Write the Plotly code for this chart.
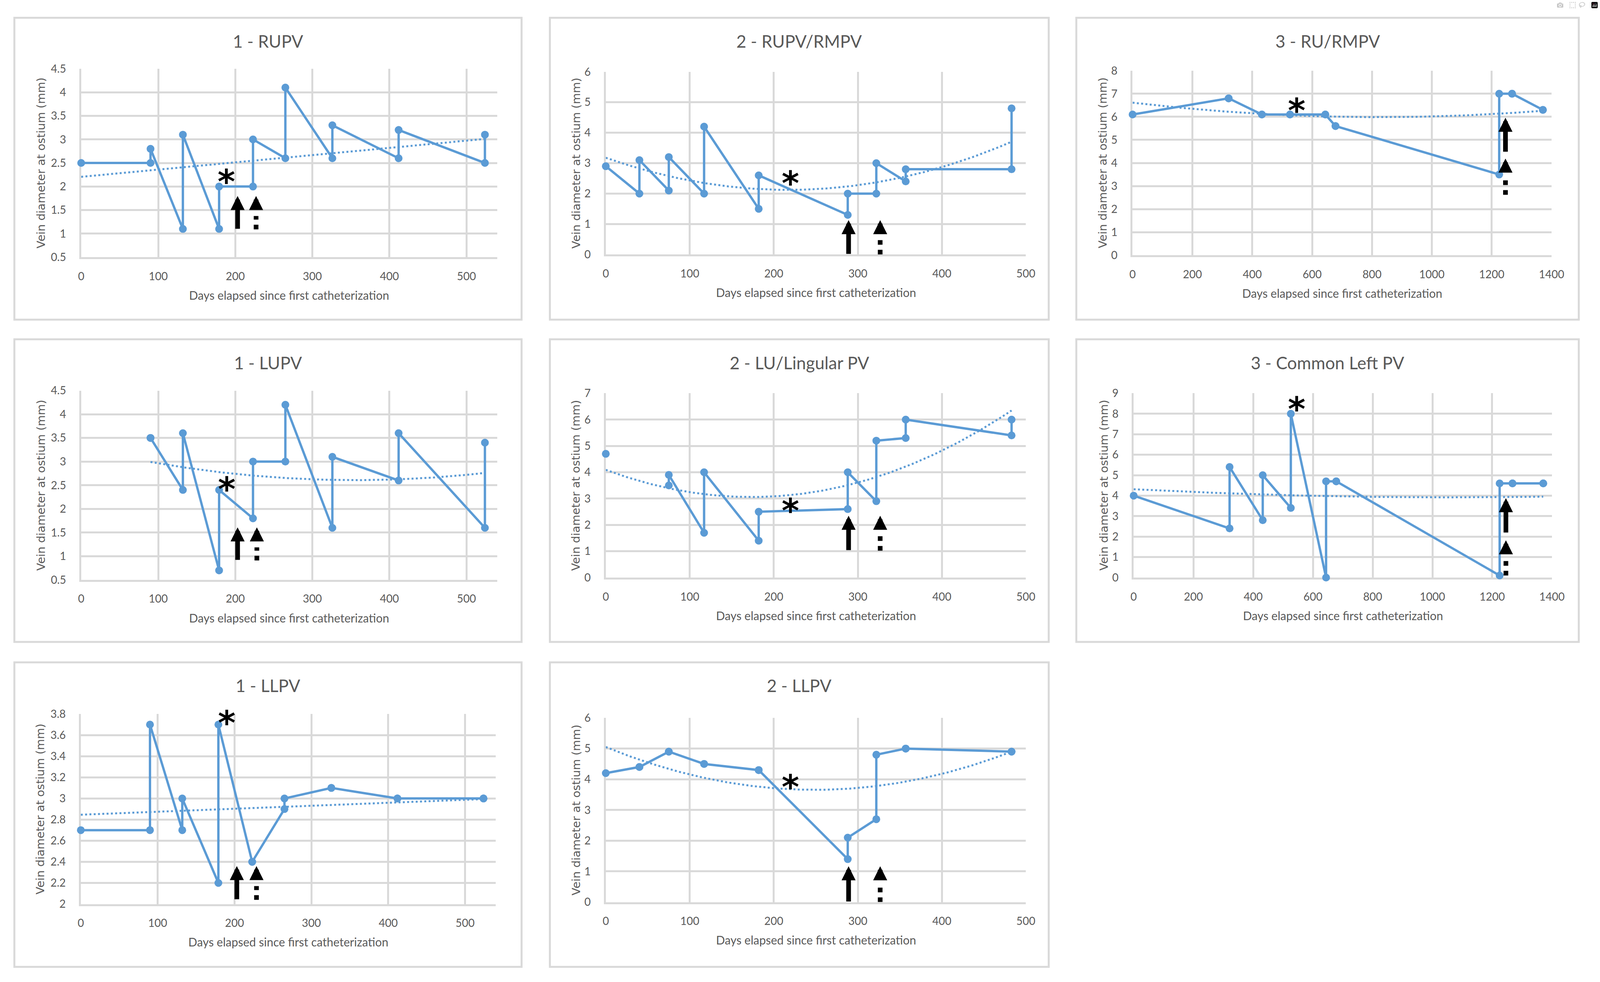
import numpy as np
import plotly.graph_objects as go

W, H = 4364, 2513
BLUE = "#5B9BD5"
GRID = "#D9D9D9"
TEXT = "#595959"

# ---- visit days (pre / post measurement pairs) ----
p1_days = [0, 90, 90, 132, 132, 179, 179, 223, 223, 265, 265, 326, 326, 412, 412, 524, 524]
p2_days = [0, 40, 40, 75, 75, 117, 117, 182, 182, 288, 288, 322, 322, 357, 357, 483, 483]
p3_days = [0, 321, 321, 432, 432, 526, 526, 644, 644, 678, 678, 1225, 1225, 1268, 1268, 1371, 1371]

# ---- vein diameters at ostium (mm) ----
rupv_1 = [2.5, 2.5, 2.8, 1.1, 3.1, 1.1, 2.0, 2.0, 3.0, 2.6, 4.1, 2.6, 3.3, 2.6, 3.2, 2.5, 3.1]
lupv_1 = [None, 3.5, 3.5, 2.4, 3.6, 0.7, 2.4, 1.8, 3.0, 3.0, 4.2, 1.6, 3.1, 2.6, 3.6, 1.6, 3.4]
llpv_1 = [2.7, 2.7, 3.7, 2.7, 3.0, 2.2, 3.7, 2.4, 2.4, 2.9, 3.0, 3.1, 3.1, 3.0, 3.0, 3.0, 3.0]
rupv_rmpv_2 = [2.9, 2.0, 3.1, 2.1, 3.2, 2.0, 4.2, 1.5, 2.6, 1.3, 2.0, 2.0, 3.0, 2.4, 2.8, 2.8, 4.8]
lu_lingular_2 = [4.7, None, None, 3.5, 3.9, 1.7, 4.0, 1.4, 2.5, 2.6, 4.0, 2.9, 5.2, 5.3, 6.0, 5.4, 6.0]
llpv_2 = [4.2, 4.4, 4.4, 4.9, 4.9, 4.5, 4.5, 4.3, 4.3, 1.4, 2.1, 2.7, 4.8, 5.0, 5.0, 4.9, 4.9]
ru_rmpv_3 = [6.1, 6.8, 6.8, 6.1, 6.1, 6.1, 6.1, 6.1, 6.1, 5.6, 5.6, 3.5, 7.0, 7.0, 7.0, 6.3, 6.3]
common_left_3 = [4.0, 2.4, 5.4, 2.8, 5.0, 3.4, 8.0, 0.0, 4.7, 4.7, 4.7, 0.1, 4.6, 4.6, 4.6, 4.6, 4.6]

titles = ["1 - RUPV", "2 - RUPV/RMPV", "3 - RU/RMPV",
          "1 - LUPV", "2 - LU/Lingular PV", "3 - Common Left PV",
          "1 - LLPV", "2 - LLPV"]

# annotation markers: asterisk (x, y); solid arrow (x, base, tip); dashed arrow (x, base, tip)
stars = [(188.5, 2.27), (220, 2.6), (548, 6.6), (189, 2.58), (220, 2.83), (546, 8.6), (190, 3.79), (220, 4.0)]
solid_arrows = [(203, 1.09, 1.80), (289, 0.0, 1.13), (1246, 4.46, 5.96), (203, 0.91, 1.61),
                (289, 1.02, 2.35), (1246, 2.17, 3.88), (203, 2.04, 2.36), (289, 0.0, 1.17)]
dashed_arrows = [(227, 1.09, 1.80), (326.6, 0.0, 1.13), (1246, 2.62, 4.19), (228, 0.91, 1.61),
                 (326.6, 1.02, 2.35), (1246, 0.1, 1.82), (228.6, 2.04, 2.36), (326.6, 0.0, 1.17)]

panels = [
    dict(days=p1_days, mm=rupv_1, fit=1, xr=[0, 540], xd=100, yr=[0.5, 4.5], yd=0.5, plot=(215, 1361, 160, 649), box=(31, 1428, 28, 811), yoff=111),
    dict(days=p2_days, mm=rupv_rmpv_2, fit=2, xr=[0, 500], xd=100, yr=[0, 6], yd=1, plot=(1660, 2817, 168, 642), box=(1506, 2880, 28, 811), yoff=82),
    dict(days=p3_days, mm=ru_rmpv_3, fit=2, xr=[0, 1400], xd=200, yr=[0, 8], yd=1, plot=(3111, 4265, 165, 644), box=(2956, 4340, 28, 811), yoff=82),
    dict(days=p1_days, mm=lupv_1, fit=2, xr=[0, 540], xd=100, yr=[0.5, 4.5], yd=0.5, plot=(215, 1361, 995, 1486), box=(31, 1428, 862, 1647), yoff=111),
    dict(days=p2_days, mm=lu_lingular_2, fit=2, xr=[0, 500], xd=100, yr=[0, 7], yd=1, plot=(1660, 2817, 1002, 1480), box=(1506, 2880, 862, 1647), yoff=82),
    dict(days=p3_days, mm=common_left_3, fit=2, xr=[0, 1400], xd=200, yr=[0, 9], yd=1, plot=(3114, 4266, 1002, 1480), box=(2956, 4340, 862, 1647), yoff=82),
    dict(days=p1_days, mm=llpv_1, fit=1, xr=[0, 540], xd=100, yr=[2, 3.8], yd=0.2, plot=(214, 1357, 1834, 2327), box=(31, 1428, 1700, 2490), yoff=111),
    dict(days=p2_days, mm=llpv_2, fit=2, xr=[0, 500], xd=100, yr=[0, 6], yd=1, plot=(1660, 2817, 1844, 2322), box=(1506, 2880, 1700, 2490), yoff=82),
]

fig = go.Figure()
layout = dict(autosize=True, margin=dict(l=0, r=0, t=0, b=0),
              paper_bgcolor="white", plot_bgcolor="white", showlegend=False)
shapes, annotations = [], []

tickfont = dict(family="Lato", size=28, color=TEXT)
HEAD = 36  # arrow head length in px
AW = 12    # arrow shaft width in px

for i, p in enumerate(panels):
    n = i + 1
    xa = "xaxis" if n == 1 else f"xaxis{n}"
    ya = "yaxis" if n == 1 else f"yaxis{n}"
    xr = "x" if n == 1 else f"x{n}"
    yr = "y" if n == 1 else f"y{n}"
    px0, px1, py0, py1 = p["plot"]
    layout[xa] = dict(domain=[px0 / W, px1 / W], anchor=yr, range=p["xr"], dtick=p["xd"], tick0=0,
                      showgrid=True, gridcolor=GRID, gridwidth=5, zeroline=False,
                      showline=True, linecolor=GRID, linewidth=5, layer="below traces",
                      ticks="", tickfont=tickfont, ticklabelstandoff=20, fixedrange=True)
    layout[ya] = dict(domain=[1 - py1 / H, 1 - py0 / H], anchor=xr, range=p["yr"], dtick=p["yd"], tick0=0,
                      showgrid=True, gridcolor=GRID, gridwidth=5, zeroline=False,
                      showline=True, linecolor=GRID, linewidth=5, layer="below traces",
                      ticks="", tickfont=tickfont, ticklabelstandoff=28, fixedrange=True)

    # trendline (Excel-style polynomial fit of the series)
    xs_d = np.array([d for d, v in zip(p["days"], p["mm"]) if v is not None], dtype=float)
    ys_d = np.array([v for v in p["mm"] if v is not None], dtype=float)
    coef = np.polyfit(xs_d, ys_d, p["fit"])
    xt = np.linspace(xs_d.min(), xs_d.max(), 200)
    fig.add_trace(go.Scatter(x=xt, y=np.polyval(coef, xt), mode="lines",
                             line=dict(color=BLUE, width=5, dash="5px,6px"),
                             xaxis=xr, yaxis=yr, hoverinfo="skip"))
    fig.add_trace(go.Scatter(x=p["days"], y=p["mm"], mode="lines+markers",
                             line=dict(color=BLUE, width=6), marker=dict(size=20, color=BLUE),
                             connectgaps=False, cliponaxis=False, xaxis=xr, yaxis=yr))

    # panel border
    bx0, bx1, by0, by1 = p["box"]
    shapes.append(dict(type="rect", xref="paper", yref="paper", x0=bx0 / W, x1=bx1 / W,
                       y0=1 - by1 / H, y1=1 - by0 / H, line=dict(color=GRID, width=5), layer="below"))

    # titles
    annotations.append(dict(xref="paper", yref="paper", x=(bx0 + bx1) / 2 / W, y=1 - (by0 + 60) / H,
                            text=titles[i], showarrow=False, xanchor="center", yanchor="middle",
                            font=dict(family="Lato", size=44, color=TEXT)))
    annotations.append(dict(xref="paper", yref="paper", x=(px0 + px1) / 2 / W, y=1 - (py1 + 98) / H,
                            text="Days elapsed since first catheterization", showarrow=False,
                            xanchor="center", yanchor="middle",
                            font=dict(family="Lato", size=30, color=TEXT)))
    annotations.append(dict(xref="paper", yref="paper", x=(px0 - p["yoff"]) / W, y=1 - (py0 + py1) / 2 / H,
                            text="Vein diameter at ostium (mm)", showarrow=False, textangle=-90,
                            xanchor="center", yanchor="middle",
                            font=dict(family="DejaVu Sans", size=29, color=TEXT)))

    # asterisk
    sx, sy = stars[i]
    annotations.append(dict(xref=xr, yref=yr, x=sx, y=sy, text="<b>*</b>", showarrow=False,
                            xanchor="center", yanchor="middle", yshift=-20,
                            font=dict(family="DejaVu Sans", size=86, color="black")))

    ppu = (py1 - py0) / (p["yr"][1] - p["yr"][0])
    # solid arrow
    ax_, base, tip = solid_arrows[i]
    annotations.append(dict(xref=xr, yref=yr, x=ax_, y=tip, ax=ax_, ay=base, axref=xr, ayref=yr,
                            text="", showarrow=True, arrowhead=2, arrowwidth=AW,
                            arrowsize=HEAD / (5 * AW), arrowcolor="black"))
    # dashed arrow: dashed shaft + head
    dx, dbase, dtip = dashed_arrows[i]
    shaft_len = (dtip - dbase) * ppu - HEAD - 16
    shapes.append(dict(type="line", xref=xr, yref=yr, x0=dx, x1=dx, y0=dbase, y1=dbase + shaft_len / ppu,
                       line=dict(color="black", width=AW, dash="12px,13px")))
    annotations.append(dict(xref=xr, yref=yr, x=dx, y=dtip, ax=0, ay=HEAD - 1,
                            text="", showarrow=True, arrowhead=2, arrowwidth=AW,
                            arrowsize=HEAD / (5 * AW), arrowcolor="black"))

layout["shapes"] = shapes
layout["annotations"] = annotations
fig.update_layout(**layout)

# fit the figure to the actual browser viewport (no page margins)
post = """
document.documentElement.style.margin='0';document.documentElement.style.padding='0';
document.documentElement.style.overflow='hidden';
document.body.style.margin='0';document.body.style.padding='0';document.body.style.overflow='hidden';
var gd=document.getElementById('{plot_id}');
gd.style.width='100vw';gd.style.height='100vh';
Plotly.Plots.resize(gd);
"""
fig.write_html("out.html", default_width="100vw", default_height="100vh", post_script=post)
